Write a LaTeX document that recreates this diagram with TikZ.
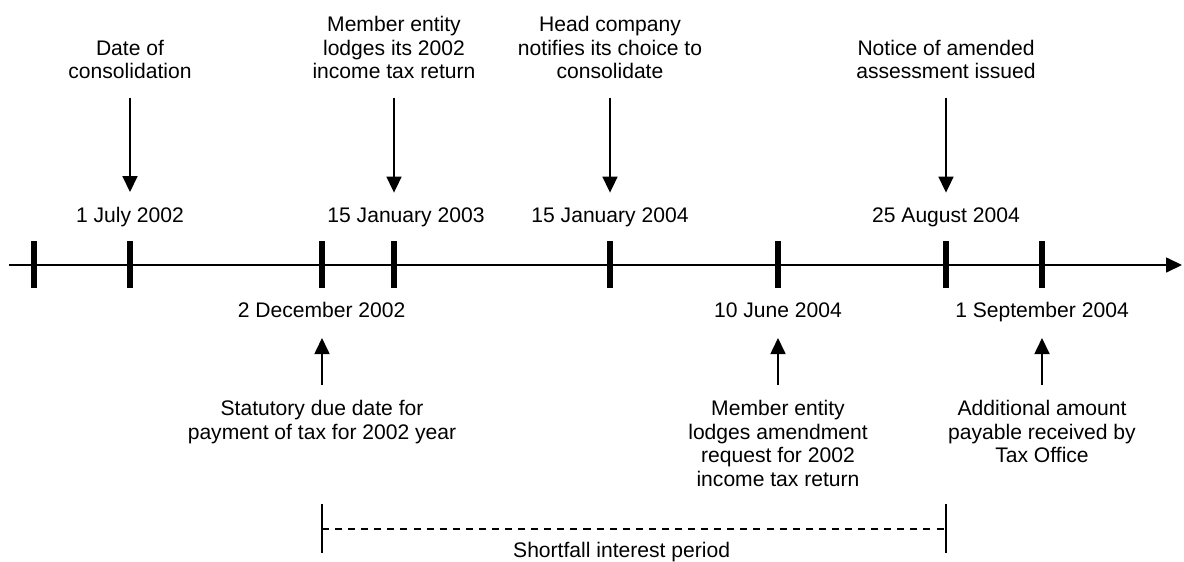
\documentclass[tikz,border=0pt]{standalone}
\usepackage{fontspec}
\setmainfont{Liberation Sans}
\usetikzlibrary{arrows.meta}

\begin{document}
\begin{tikzpicture}[
    every node/.style={inner sep=0pt, font=\fontsize{15}{16.7}\selectfont},
    desc/.style={align=center},
    date/.style={anchor=base},
    tickmark/.style={line width=3.6pt},
    evarrow/.style={line width=1.2pt, -{Triangle[width=0.375cm,length=0.4cm]}},
  ]
  \useasboundingbox (0,-7.4) rectangle (29.6,6.625);
  % time line
  \coordinate (start) at (0.225,0);
  \coordinate (stop)  at (29.55,0);
  \draw[evarrow] (start) -- (stop);
  \draw[tickmark] ( 0.85,0.6) -- ( 0.85,-0.575);
  \draw[tickmark] ( 3.25,0.6) -- ( 3.25,-0.575);
  \draw[tickmark] ( 8.05,0.6) -- ( 8.05,-0.575);
  \draw[tickmark] ( 9.85,0.6) -- ( 9.85,-0.575);
  \draw[tickmark] (15.25,0.6) -- (15.25,-0.575);
  \draw[tickmark] (19.45,0.6) -- (19.45,-0.575);
  \draw[tickmark] (23.65,0.6) -- (23.65,-0.575);
  \draw[tickmark] (26.05,0.6) -- (26.05,-0.575);
  % dates
  \node[date] (jul02) at ( 3.25, 1.075) {1 July 2002};
  \node[date] (jan03) at (10.15, 1.075) {15 January 2003};
  \node[date] (jan04) at (15.25, 1.075) {15 January 2004};
  \node[date] (aug04) at (23.65, 1.075) {25 August 2004};
  \node[date] (dec02) at ( 8.04,-1.3) {2 December 2002};
  \node[date] (jun04) at (19.45,-1.3) {10 June 2004};
  \node[date] (sep04) at (26.05,-1.3) {1 September 2004};
  % events above
  \node[desc, anchor=south] (consol) at ( 3.25,4.65) {Date of\\consolidation};
  \node[desc, anchor=south] (lodge)  at ( 9.85,4.65) {Member entity\\lodges its 2002\\income tax return};
  \node[desc, anchor=south] (choice) at (15.25,4.65) {Head company\\notifies its choice to\\consolidate};
  \node[desc, anchor=south] (notice) at (23.65,4.65) {Notice of amended\\assessment issued};
  \draw[evarrow, shorten <=0.475cm, shorten >=0.36cm] (consol.south) -- (consol.south |- jul02.north);
  \draw[evarrow, shorten <=0.475cm, shorten >=0.36cm] (lodge.south)  -- (lodge.south |- jan03.north);
  \draw[evarrow, shorten <=0.475cm, shorten >=0.36cm] (choice.south) -- (choice.south |- jan04.north);
  \draw[evarrow, shorten <=0.475cm, shorten >=0.36cm] (notice.south) -- (notice.south |- aug04.north);
  % events below
  \node[desc, anchor=north] (due)    at ( 8.05,-3.375) {Statutory due date for\\payment of tax for 2002 year};
  \node[desc, anchor=north] (amend)  at (19.45,-3.375) {Member entity\\lodges amendment\\request for 2002\\income tax return};
  \node[desc, anchor=north] (paid)   at (26.05,-3.375) {Additional amount\\payable received by\\Tax Office};
  \draw[evarrow, shorten <=0.375cm, shorten >=0.525cm] (due.north)   -- (due.north |- dec02.base);
  \draw[evarrow, shorten <=0.375cm, shorten >=0.525cm] (amend.north) -- (amend.north |- jun04.base);
  \draw[evarrow, shorten <=0.375cm, shorten >=0.525cm] (paid.north)  -- (paid.north |- sep04.base);
  % shortfall interest period
  \coordinate (pbeg) at ( 8.05,-6.6);
  \coordinate (pend) at (23.65,-6.6);
  \draw[line width=0.9pt] ([yshift=0.625cm]pbeg) -- ([yshift=-0.6cm]pbeg);
  \draw[line width=0.9pt] ([yshift=0.625cm]pend) -- ([yshift=-0.6cm]pend);
  \draw[line width=0.9pt, dash pattern=on 5pt off 4.3pt] (pbeg) -- (pend);
  \node[date] (period) at (15.54,-7.3) {Shortfall interest period};
\end{tikzpicture}
\end{document}
